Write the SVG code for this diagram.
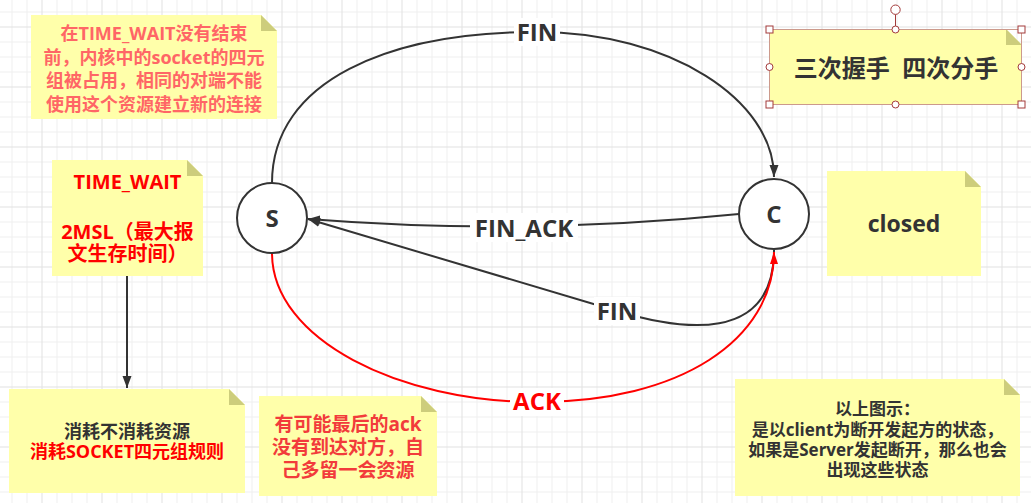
<svg xmlns="http://www.w3.org/2000/svg" width="1031" height="503" viewBox="0 0 1031 503">
<style>
text{font-family:"Open Sans","Noto Sans CJK SC",sans-serif;font-weight:bold;text-anchor:middle}
.note{fill:#ffffaa}
.fold{fill:#cdcd7c}
.conn{fill:none;stroke:#333;stroke-width:2}
.red{fill:none;stroke:#ff0000;stroke-width:2}
.lbl{font-size:24px;fill:#333}
.lblbg{fill:#ffffff}
.node{fill:#ffffff;stroke:#333;stroke-width:2}
.h{fill:#ffffff;stroke:#a33a3a;stroke-width:1}
</style>
<defs>
<pattern id="grid" patternUnits="userSpaceOnUse" x="41.5" y="26.5" width="60" height="60">
<path d="M15.5 0V60M30.5 0V60M45.5 0V60M0 15.5H60M0 30.5H60M0 45.5H60" stroke="#efefef" stroke-width="1" fill="none"/>
<path d="M0.5 0V60M0 0.5H60" stroke="#e1e1e1" stroke-width="1" fill="none"/>
</pattern>
<marker id="arr" markerUnits="userSpaceOnUse" viewBox="0 0 12 10" refX="12" refY="5" markerWidth="12" markerHeight="10" orient="auto">
<path d="M0 0.5L12 5L0 9.5Z" fill="#333"/>
</marker>
<marker id="arrRed" markerUnits="userSpaceOnUse" viewBox="0 0 12 10" refX="12" refY="5" markerWidth="12" markerHeight="10" orient="auto">
<path d="M0 1L12 5L0 9Z" fill="#ff0000"/>
</marker>
</defs>
<rect width="1031" height="503" fill="#ffffff"/>
<rect width="1031" height="503" fill="url(#grid)"/>

<g id="connectors">
<path class="conn" d="M272 183C272 80 390 32 537 32C670 32 774 100 774 177" marker-end="url(#arr)"/>
<path class="conn" d="M739 214Q524 236 308 219" marker-end="url(#arr)"/>
<path class="conn" d="M774 250C774 345 680 330 617 311L308 219" marker-end="url(#arr)"/>
<path class="red" d="M272 253C272 340 400 402 537 402C680 402 774 340 774 252" marker-end="url(#arrRed)"/>
<path class="conn" d="M127 276L127 388" marker-end="url(#arr)"/>
<rect class="lblbg" x="514" y="18" width="46" height="28"/>
<text class="lbl" x="537" y="40.8">FIN</text>
<rect class="lblbg" x="470" y="213" width="108" height="29"/>
<text class="lbl" x="524" y="236.7">FIN_ACK</text>
<rect class="lblbg" x="594" y="297" width="46" height="28"/>
<text class="lbl" x="617" y="320">FIN</text>
<rect class="lblbg" x="510" y="388" width="54" height="28"/>
<text class="lbl" x="537" y="410" fill="#ff0000" style="fill:#ff0000">ACK</text>
</g>

<g id="node-S">
<circle class="node" cx="272" cy="218" r="35"/>
<text x="272" y="227.3" font-size="24" fill="#333">S</text>
</g>
<g id="node-C">
<circle class="node" cx="774" cy="214" r="35"/>
<text x="774" y="223.3" font-size="24" fill="#333">C</text>
</g>

<g id="note-timewait-kernel">
<polygon class="note" points="31,15 261,15 277,31 277,119 31,119"/>
<polygon class="fold" points="261,15 261,31 277,31"/>
<g font-size="18" fill="#ff6666">
<text x="154" y="40.3">在TIME_WAIT没有结束</text>
<text x="154" y="63.8">前，内核中的socket的四元</text>
<text x="154" y="87.3">组被占用，相同的对端不能</text>
<text x="154" y="110.8">使用这个资源建立新的连接</text>
</g>
</g>

<g id="note-timewait">
<polygon class="note" points="52,160 187,160 203,176 203,276 52,276"/>
<polygon class="fold" points="187,160 187,176 203,176"/>
<g font-size="20" fill="#ff0000">
<text x="127.5" y="188.8">TIME_WAIT</text>
<text x="127.5" y="238.7">2MSL（最大报</text>
<text x="127.5" y="261">文生存时间）</text>
</g>
</g>

<g id="note-consume">
<polygon class="note" points="9,389 229,389 245,405 245,493 9,493"/>
<polygon class="fold" points="229,389 229,405 245,405"/>
<text x="127" y="438.3" font-size="18" fill="#333">消耗不消耗资源</text>
<text x="127" y="458.3" font-size="18" fill="#ff0000">消耗SOCKET四元组规则</text>
</g>

<g id="note-ack">
<polygon class="note" points="259,396 421,396 437,412 437,496 259,496"/>
<polygon class="fold" points="421,396 421,412 437,412"/>
<g font-size="19" fill="#f23b3b">
<text x="348" y="430.5">有可能最后的ack</text>
<text x="348" y="453.9">没有到达对方，自</text>
<text x="348" y="477.2">己多留一会资源</text>
</g>
</g>

<g id="note-info">
<polygon class="note" points="735,379 1004,379 1020,395 1020,496 735,496"/>
<polygon class="fold" points="1004,379 1004,395 1020,395"/>
<g font-size="17" fill="#333">
<text x="877.5" y="414.5">以上图示：</text>
<text x="877.5" y="435.8">是以client为断开发起方的状态，</text>
<text x="877.5" y="456">如果是Server发起断开，那么也会</text>
<text x="877.5" y="476.3">出现这些状态</text>
</g>
</g>

<g id="note-closed">
<polygon class="note" points="827,171 965,171 981,187 981,276 827,276"/>
<polygon class="fold" points="965,171 965,187 981,187"/>
<text x="904" y="231.7" font-size="23" fill="#333">closed</text>
</g>

<g id="note-title">
<polygon class="note" points="769,29 1006,29 1022,45 1022,104 769,104"/>
<polygon class="fold" points="1006,29 1006,45 1022,45"/>
<rect x="769.5" y="29.5" width="252" height="75" fill="none" stroke="#cc9a8c" stroke-width="1"/>
<text x="896" y="77.4" font-size="24" fill="#333" xml:space="preserve">三次握手  四次分手</text>
<line x1="895.5" y1="14.4" x2="895.5" y2="29.5" stroke="#a33a3a" stroke-width="1"/>
<circle class="h" cx="895.5" cy="9.7" r="4.7"/>
<rect class="h" x="766" y="26" width="7" height="7"/>
<rect class="h" x="1018" y="26" width="7" height="7"/>
<rect class="h" x="766" y="101" width="7" height="7"/>
<rect class="h" x="1018" y="101" width="7" height="7"/>
<circle class="h" cx="895.5" cy="29.5" r="3.5"/>
<circle class="h" cx="895.5" cy="104.5" r="3.5"/>
<circle class="h" cx="769.5" cy="67" r="3.5"/>
<circle class="h" cx="1021.5" cy="67" r="3.5"/>
</g>
</svg>
